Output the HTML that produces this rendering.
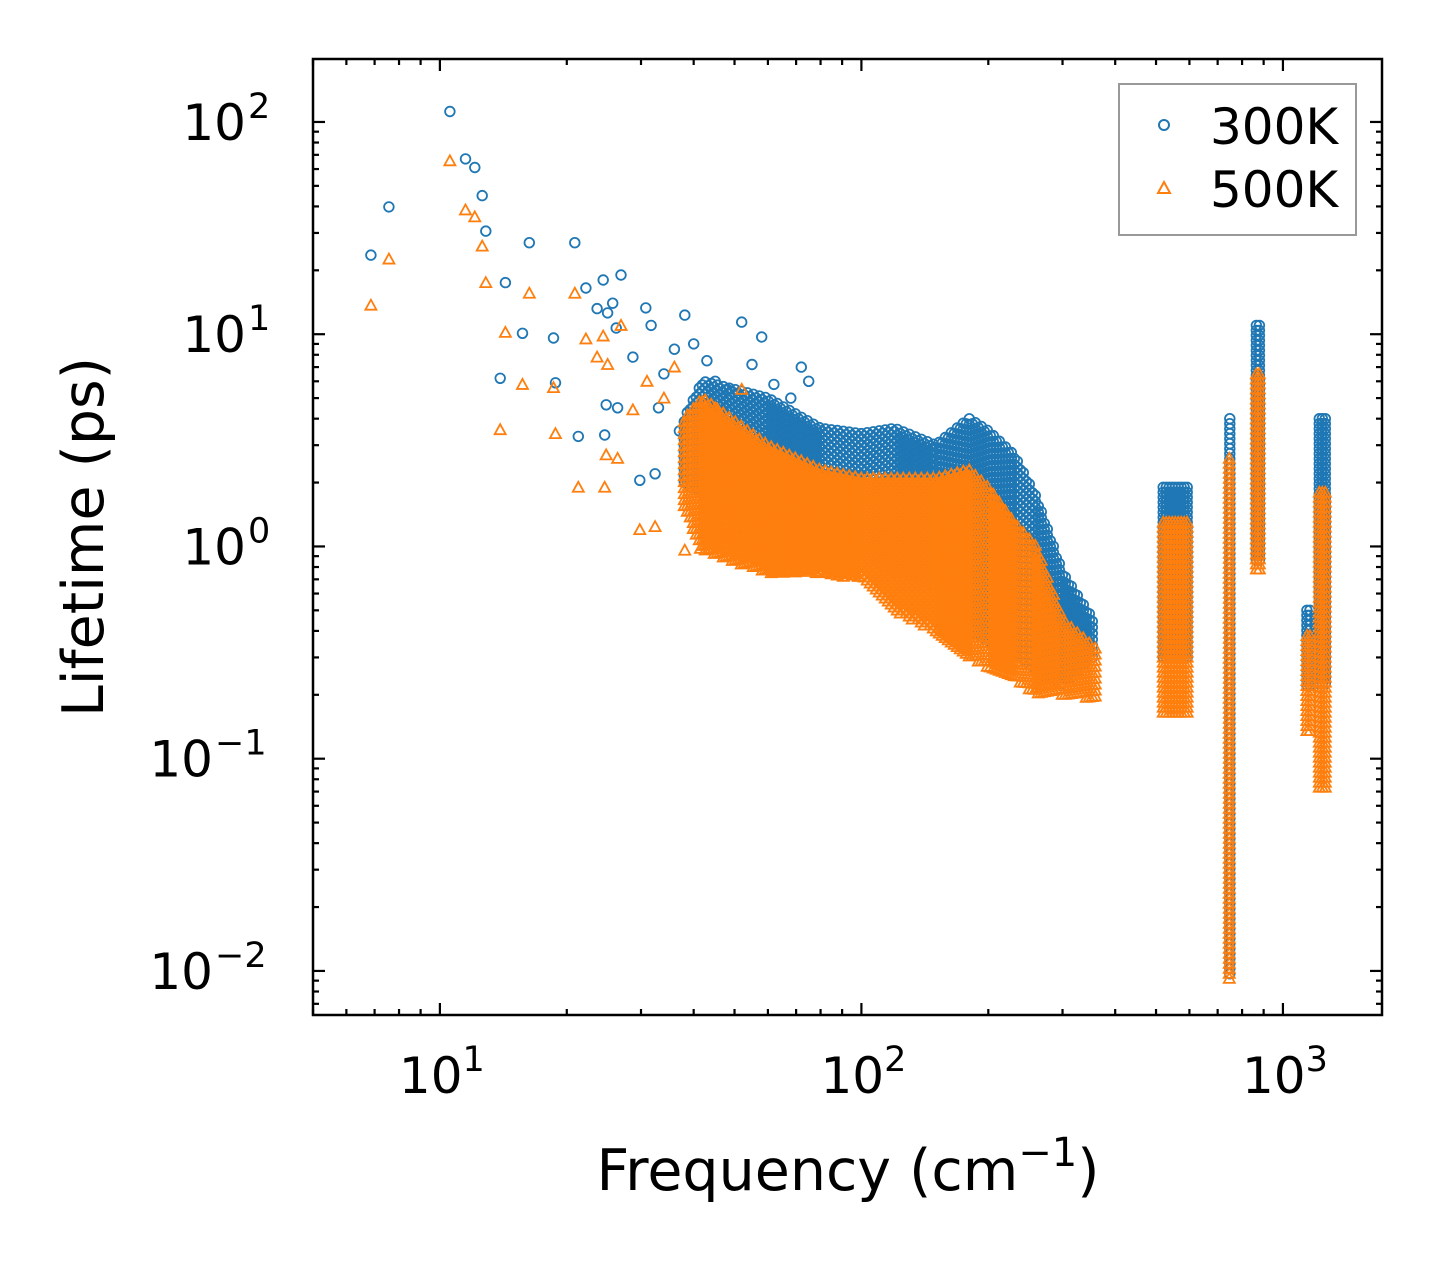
<!DOCTYPE html>
<html><head><meta charset="utf-8"><style>
body{margin:0;background:#fff}
svg{display:block;font-family:"DejaVu Sans","Liberation Sans",sans-serif}
</style></head><body>
<svg id="chart" width="1442" height="1265" viewBox="0 0 1442 1265" xmlns="http://www.w3.org/2000/svg">
<rect width="1442" height="1265" fill="#fff"/>
<g id="marks"></g>
<g id="axes"></g>
<rect x="313" y="59" width="1069" height="956" fill="none" stroke="#000" stroke-width="2.5"/>
<g>
<rect x="1119" y="84" width="237" height="151" fill="#fff" stroke="#999" stroke-width="2"/>
<circle cx="1164" cy="125" r="5" fill="none" stroke="#1f77b4" stroke-width="2"/>
<text x="1210" y="144" font-size="50">300K</text>
<polygon points="1164,182 1170,193 1158,193" fill="none" stroke="#ff7f0e" stroke-width="2"/>
<text x="1210" y="207" font-size="50">500K</text>
</g>
<text x="848" y="1190" font-size="57" text-anchor="middle">Frequency (cm<tspan dy="-24" font-size="40">−1</tspan><tspan dy="24">)</tspan></text>
<text transform="translate(103,537) rotate(-90)" font-size="57" text-anchor="middle">Lifetime (ps)</text>
</svg>
<script>
const xTickVals=[10,100,1000];
const yTickVals=[100,10,1,0.1,0.01];
// sparse points 300K
const blueF=[6.86,7.57,10.56,11.5,12.1,12.6,12.85,13.9,14.3,15.7,16.3,18.6,18.8,20.9,21.3,22.2,23.6,24.4,24.6,24.8,25.0,25.7,26.4,26.9,26.2,29.8,30.8,31.7,32.4,28.7,38.1,52,58,34,36,40,43,45,48,55,62,68,72,75,33,37];
const blueL=[23.6,39.8,112,67,61,45,30.6,6.2,17.5,10.1,27,9.6,5.9,27,3.3,16.5,13.2,18,3.35,4.65,12.6,14,4.5,19,10.7,2.05,13.3,11,2.2,7.8,12.3,11.4,9.7,6.5,8.5,9,7.5,6,5.5,7.2,5.8,5,7,6,4.5,3.5];
// sparse points 500K
const orgF=[6.86,7.57,10.56,11.5,12.1,12.6,12.85,13.9,14.3,15.7,16.3,18.6,18.8,20.9,21.3,22.2,23.6,24.4,24.6,24.8,25,26.4,26.9,29.8,32.4,28.7,38.1,41.5,31,34,36,45,52];
const orgL=[13.7,22.6,65.6,38.5,35.7,26,17.5,3.55,10.2,5.8,15.6,5.6,3.4,15.6,1.9,9.5,7.8,9.8,1.9,2.7,7.2,2.6,11,1.2,1.24,4.4,0.96,0.98,6,5,7,4.5,5.5];
// dense band envelopes (freq, high, low)
const blueBandF=[38,42,60,80,100,120,150,180,200,230,260,300,355];
const blueBandHi=[4,6,5,3.6,3.4,3.6,3.0,4.0,3.5,2.7,1.7,0.75,0.45];
const blueBandLo=[2,1.7,1.4,1.05,0.9,0.75,0.65,0.4,0.35,0.31,0.25,0.22,0.3];
const orgBandF=[38,42,60,80,100,120,150,180,200,230,260,300,360];
const orgBandHi=[4,5,3.0,2.3,2.1,2.1,2.1,2.3,1.9,1.3,1.0,0.45,0.33];
const orgBandLo=[1.5,0.95,0.75,0.75,0.7,0.5,0.4,0.3,0.27,0.24,0.2,0.2,0.19];
// high-frequency clusters [fmin,fmax,hi,lo]
const blueClF1=[520,748,865,1140,1220];
const blueClF2=[595,756,882,1165,1265];
const blueClHi=[1.9,4.0,11,0.5,4.0];
const blueClLo=[0.3,0.0095,0.85,0.22,0.22];
const orgClF1=[520,746,865,1140,1220];
const orgClF2=[595,754,882,1165,1265];
const orgClHi=[1.3,2.6,6.5,0.38,1.8];
const orgClLo=[0.16,0.009,0.75,0.13,0.07];

const X0=313,X1=1382,Y0=59,Y1=1015;
const lx0=Math.log10(5.0),lx1=Math.log10(1718),ly0=Math.log10(198),ly1=Math.log10(0.0062);
function sx(f){return X0+(Math.log10(f)-lx0)/(lx1-lx0)*(X1-X0);}
function sy(v){return Y0+(Math.log10(v)-ly0)/(ly1-ly0)*(Y1-Y0);}
const NS='http://www.w3.org/2000/svg';
const marks=document.getElementById('marks'),axes=document.getElementById('axes');
function mk(tag,attrs,parent){const e=document.createElementNS(NS,tag);for(const k in attrs)e.setAttribute(k,attrs[k]);parent.appendChild(e);return e;}
const gB=mk('g',{},marks);


const gO=mk('g',{},marks);


function circ(f,v){const c=mk('circle',{cx:sx(f).toFixed(1),cy:sy(v).toFixed(1),r:4.8,fill:'none',stroke:'#1f77b4','stroke-width':1.8},gB);

}
function tri(f,v){const x=sx(f),y=sy(v);const p=mk('polygon',{points:`${x},${y-5.5} ${x+5.5},${y+4.5} ${x-5.5},${y+4.5}`,fill:'none',stroke:'#ff7f0e','stroke-width':1.8},gO);

}
function interp(F,A,f){if(f<=F[0])return A[0];for(let i=0;i<F.length-1;i++){if(f>=F[i]&&f<=F[i+1]){const t=(Math.log10(f)-Math.log10(F[i]))/(Math.log10(F[i+1])-Math.log10(F[i]));return Math.pow(10,Math.log10(A[i])+t*(Math.log10(A[i+1])-Math.log10(A[i])));}}return A[A.length-1];}
function band(F,Hi,Lo,draw,dx,dy){const xa=sx(F[0]),xb=sx(F[F.length-1]);let k=0;for(let x=xa;x<=xb;x+=dx){k++;const f=Math.pow(10,lx0+(x-X0)/(X1-X0)*(lx1-lx0));const h=interp(F,Hi,f),l=interp(F,Lo,f);const ya=sy(h),yb=sy(l);for(let y=ya+(k%2)*dy/2;y<=yb;y+=dy){const v=Math.pow(10,ly0+(y-Y0)/(Y1-Y0)*(ly1-ly0));draw(f,v);}}}
function cluster(F1,F2,Hi,Lo,draw){for(let i=0;i<F1.length;i++){const xa=sx(F1[i]),xb=sx(F2[i]);for(let x=xa;x<=xb;x+=3){const f=Math.pow(10,lx0+(x-X0)/(X1-X0)*(lx1-lx0));for(let y=sy(Hi[i]);y<=sy(Lo[i]);y+=5){draw(f,Math.pow(10,ly0+(y-Y0)/(Y1-Y0)*(ly1-ly0)));}}}}
band(blueBandF,blueBandHi,blueBandLo,circ,3,6);
cluster(blueClF1,blueClF2,blueClHi,blueClLo,circ);
blueF.forEach((f,i)=>circ(f,blueL[i]));
band(orgBandF,orgBandHi,orgBandLo,tri,3,6);
cluster(orgClF1,orgClF2,orgClHi,orgClLo,tri);
orgF.forEach((f,i)=>tri(f,orgL[i]));

// ticks
function line(x1,y1,x2,y2){mk('line',{x1,y1,x2,y2,stroke:'#000','stroke-width':2.2},axes);}
for(let d=0;d<=3;d++){for(let m=1;m<10;m++){const f=m*Math.pow(10,d);if(f<5||f>1718)continue;const x=sx(f);const L=m===1?12:6;line(x,Y1,x,Y1-L);line(x,Y0,x,Y0+L);}}
for(let d=-3;d<=2;d++){for(let m=1;m<10;m++){const v=m*Math.pow(10,d);if(v<0.0062||v>198)continue;const y=sy(v);const L=m===1?12:6;line(X0,y,X0+L,y);line(X1,y,X1-L,y);}}
xTickVals.forEach(v=>{const t=mk('text',{x:sx(v)+2,y:1093,'font-size':50,'text-anchor':'middle'},axes);


const e=Math.round(Math.log10(v));t.innerHTML=`10<tspan dy="-22" font-size="35">${e}</tspan>`;});
yTickVals.forEach(v=>{const e=Math.round(Math.log10(v));const t=mk('text',{x:e<0?213:246,y:sy(v)+18,'font-size':50,'text-anchor':'end'},axes);


t.innerHTML=`10`;const s=mk('text',{x:e<0?215:248,y:sy(v)-4,'font-size':35},axes);


s.textContent=e<0?'−'+(-e):String(e);});
</script>
</body></html>
